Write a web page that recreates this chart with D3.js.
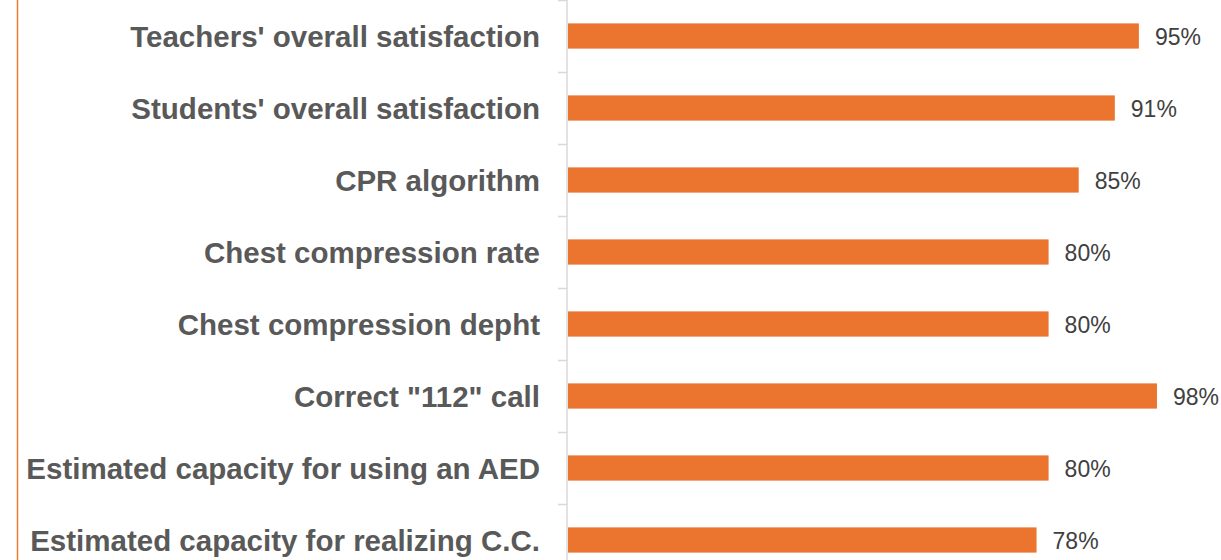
<!DOCTYPE html>
<html>
<head>
<meta charset="utf-8">
<script src="https://cdn.jsdelivr.net/npm/d3@7"></script>
<style>
  body { margin: 0; background: #fff; }
  svg { display: block; }
</style>
</head>
<body>
<svg></svg>
<script>
// categories, top to bottom
var categories = [
  "Teachers' overall satisfaction",
  "Students' overall satisfaction",
  "CPR algorithm",
  "Chest compression rate",
  "Chest compression depht",
  "Correct \"112\" call",
  "Estimated capacity for using an AED",
  "Estimated capacity for realizing C.C."
];
var values = [0.95, 0.91, 0.85, 0.80, 0.80, 0.98, 0.80, 0.78];

var svgWidth = 1221, svgHeight = 560;
var x0 = 567; // axis position

var svg = d3.select("svg")
    .attr("width", svgWidth)
    .attr("height", svgHeight);

var data = categories.map(function(c, i) { return { cat: c, val: values[i] }; });

var x = d3.scaleLinear()
    .domain([0, 1])
    .range([x0, x0 + 602]);

// band of 72px per category, last one gets cut by the frame
var y = d3.scaleBand()
    .domain(categories)
    .range([0, 72 * categories.length])
    .paddingInner(0.65)
    .paddingOuter(0.325);

// orange frame line at the left
svg.append("line")
    .attr("x1", 17.5).attr("x2", 17.5)
    .attr("y1", 0).attr("y2", svgHeight)
    .attr("stroke", "#ED7D31")
    .attr("stroke-width", 1.5);

// bars
svg.selectAll("rect.bar")
    .data(data)
    .enter().append("rect")
    .attr("class", "bar")
    .attr("x", x(0) + 1)
    .attr("y", function(d) { return y(d.cat); })
    .attr("width", function(d) { return x(d.val) - x(0) - 1; })
    .attr("height", y.bandwidth())
    .attr("fill", "#EB752F");

// axis line and ticks between categories
var tickY = d3.range(categories.length + 1).map(function(i) { return i * 72; });
svg.append("line")
    .attr("x1", x0).attr("x2", x0)
    .attr("y1", 0).attr("y2", svgHeight)
    .attr("stroke", "#D9D9D9")
    .attr("stroke-width", 1.5);
svg.selectAll("line.tick")
    .data(tickY)
    .enter().append("line")
    .attr("class", "tick")
    .attr("x1", x0 - 9).attr("x2", x0)
    .attr("y1", function(d) { return d + 0.5; })
    .attr("y2", function(d) { return d + 0.5; })
    .attr("stroke", "#D9D9D9")
    .attr("stroke-width", 1.5);

// category labels
svg.selectAll("text.cat")
    .data(data)
    .enter().append("text")
    .attr("class", "cat")
    .attr("x", 540)
    .attr("y", function(d) { return y(d.cat) + y.bandwidth() / 2; })
    .attr("dy", "0.36em")
    .attr("text-anchor", "end")
    .attr("font-family", "Liberation Sans, Arial, sans-serif")
    .attr("font-weight", "bold")
    .attr("font-size", 29.5)
    .attr("fill", "#595959")
    .text(function(d) { return d.cat; });

// value labels
svg.selectAll("text.val")
    .data(data)
    .enter().append("text")
    .attr("class", "val")
    .attr("x", function(d) { return x(d.val) + 16; })
    .attr("y", function(d) { return y(d.cat) + y.bandwidth() / 2; })
    .attr("dy", "0.4em")
    .attr("font-family", "Liberation Sans, Arial, sans-serif")
    .attr("font-size", 23)
    .attr("fill", "#404040")
    .text(function(d) { return d3.format(".0%")(d.val); });
</script>
</body>
</html>
